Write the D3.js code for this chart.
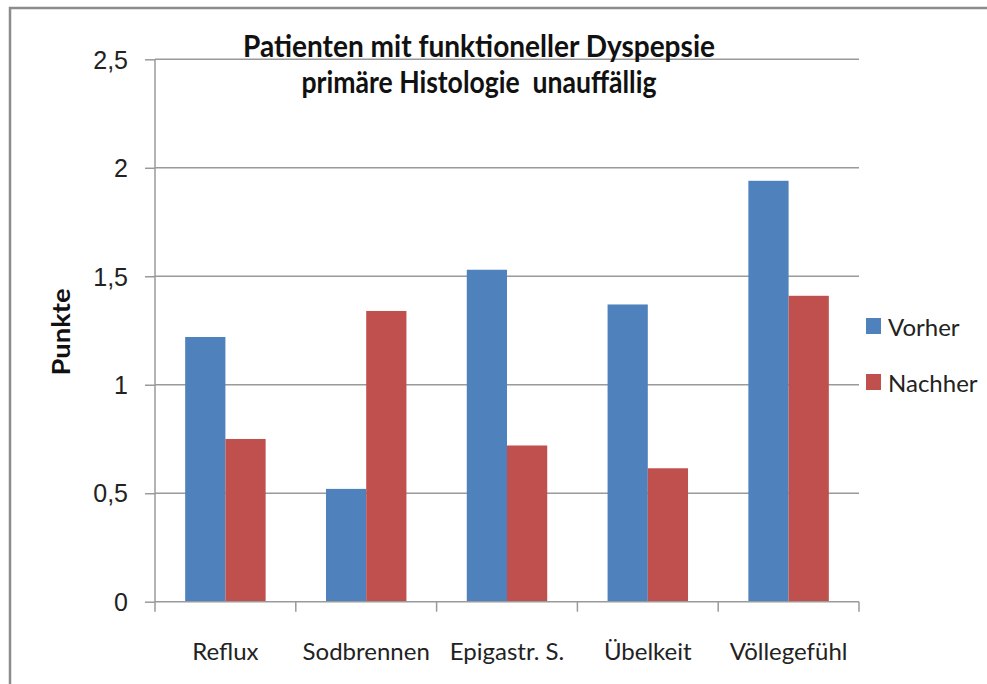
<!DOCTYPE html>
<html>
<head>
<meta charset="utf-8">
<script src="https://cdn.jsdelivr.net/npm/d3@7"></script>
<style>
  html, body { margin: 0; padding: 0; background: #fff; }
  svg { display: block; font-family: Lato, "Open Sans", sans-serif; }
</style>
</head>
<body>
<svg id="chart" width="987" height="684"></svg>
<script>
// data
var categories = ["Reflux", "Sodbrennen", "Epigastr. S.", "Übelkeit", "Völlegefühl"];
var seriesNames = ["Vorher", "Nachher"];
var vorher = [1.22, 0.52, 1.53, 1.37, 1.94];
var nachher = [0.75, 1.34, 0.72, 0.615, 1.41];
var yTicks = [0, 0.5, 1, 1.5, 2, 2.5];
var titleLines = ["Patienten mit funktioneller Dyspepsie", "primäre Histologie  unauffällig"];
var yTitle = "Punkte";

var colors = { Vorher: "#4f81bd", Nachher: "#c0504d" };
var values = { Vorher: vorher, Nachher: nachher };

var svg = d3.select("#chart");
var W = 987, H = 684;
var plot = { left: 155, right: 859, top: 59.3, bottom: 601.7 };

// outer chart border (only top and left visible in the crop)
svg.append("path")
  .attr("d", "M10," + H + "V8H" + W)
  .attr("fill", "none").attr("stroke", "#8c8c8c").attr("stroke-width", 2.5);

var y = d3.scaleLinear().domain([0, 2.5]).range([plot.bottom, plot.top]);
var x0 = d3.scaleBand().domain(categories).range([plot.left, plot.right]).padding(0);
var x1 = d3.scaleBand().domain(seriesNames).range([0, x0.bandwidth()])
  .paddingInner(0).paddingOuter(0.75);

// gridlines + y ticks
var yAxis = d3.axisLeft(y).tickValues(yTicks).tickSize(10).tickPadding(17)
  .tickFormat(function (d) { return String(d).replace(".", ","); });
var gy = svg.append("g").attr("transform", "translate(" + plot.left + ",0)").call(yAxis);
gy.select(".domain").remove();
gy.selectAll(".tick line").attr("stroke", "#9a9a9a").attr("stroke-width", 1.5);
gy.selectAll(".tick text").attr("font-size", 25).attr("fill", "#222").attr("dy", "0.35em");

svg.append("g").selectAll("line").data(yTicks.filter(function (d) { return d > 0; }))
  .enter().append("line")
  .attr("x1", plot.left).attr("x2", plot.right)
  .attr("y1", function (d) { return y(d); }).attr("y2", function (d) { return y(d); })
  .attr("stroke", "#9a9a9a").attr("stroke-width", 1.5);

// bars
var groups = svg.append("g").selectAll("g").data(categories).enter().append("g")
  .attr("transform", function (c) { return "translate(" + x0(c) + ",0)"; });
groups.selectAll("rect")
  .data(function (c, i) { return seriesNames.map(function (s) { return { s: s, v: values[s][i] }; }); })
  .enter().append("rect")
  .attr("x", function (d) { return x1(d.s); })
  .attr("width", x1.bandwidth())
  .attr("y", function (d) { return y(d.v); })
  .attr("height", function (d) { return y(0) - y(d.v); })
  .attr("fill", function (d) { return colors[d.s]; });

// axes lines
svg.append("line").attr("x1", plot.left).attr("x2", plot.left)
  .attr("y1", plot.top).attr("y2", plot.bottom)
  .attr("stroke", "#9a9a9a").attr("stroke-width", 1.5);
svg.append("line").attr("x1", plot.left).attr("x2", plot.right)
  .attr("y1", plot.bottom).attr("y2", plot.bottom)
  .attr("stroke", "#9a9a9a").attr("stroke-width", 1.5);

// category tick marks at band edges
var edges = categories.map(function (c) { return x0(c); }).concat([plot.right]);
svg.append("g").selectAll("line").data(edges).enter().append("line")
  .attr("x1", function (d) { return d; }).attr("x2", function (d) { return d; })
  .attr("y1", plot.bottom).attr("y2", plot.bottom + 10)
  .attr("stroke", "#9a9a9a").attr("stroke-width", 1.5);

// category labels
svg.append("g").selectAll("text").data(categories).enter().append("text")
  .attr("x", function (c) { return x0(c) + x0.bandwidth() / 2; })
  .attr("y", 660)
  .attr("text-anchor", "middle").attr("font-size", 24).attr("fill", "#222")
  .text(function (c) { return c; });

// title
var titleWidths = [472, 355];
svg.append("g").selectAll("text").data(titleLines).enter().append("text")
  .attr("x", 479).attr("y", function (d, i) { return 57 + i * 36; })
  .attr("text-anchor", "middle").attr("font-size", 30).attr("font-weight", "bold")
  .attr("fill", "#111").style("white-space", "pre")
  .attr("textLength", function (d, i) { return titleWidths[i]; })
  .attr("lengthAdjust", "spacingAndGlyphs")
  .text(function (d) { return d; });

// y axis title
svg.append("text")
  .attr("transform", "translate(70,332) rotate(-90)")
  .attr("text-anchor", "middle").attr("font-size", 25).attr("font-weight", "bold")
  .attr("fill", "#111")
  .attr("textLength", 87).attr("lengthAdjust", "spacingAndGlyphs")
  .text(yTitle);

// legend
var legend = svg.append("g").selectAll("g").data(seriesNames).enter().append("g")
  .attr("transform", function (d, i) { return "translate(866," + (318 + i * 56) + ")"; });
legend.append("rect").attr("width", 15).attr("height", 16)
  .attr("fill", function (d) { return colors[d]; });
legend.append("text").attr("x", 22).attr("y", 18)
  .attr("font-size", 24).attr("fill", "#222")
  .text(function (d) { return d; });
</script>
</body>
</html>
